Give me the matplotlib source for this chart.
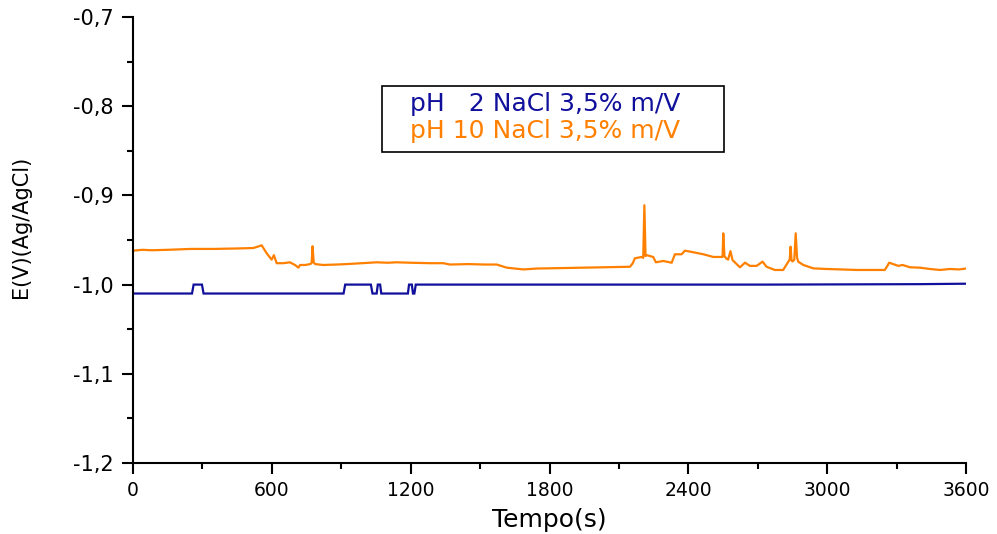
import matplotlib
matplotlib.use("Agg")
import matplotlib.pyplot as plt
from matplotlib.patches import Rectangle
from matplotlib.ticker import MultipleLocator

plt.rcParams['font.family'] = ['DejaVu Sans']

# ---- data ----
blue_t = [0, 255, 262, 298, 305, 910, 917, 1028, 1035, 1053, 1058, 1068, 1073,
          1188, 1193, 1205, 1210, 1216, 1222, 2750, 3400, 3600]
blue_v = [-1.01, -1.01, -1.0, -1.0, -1.01, -1.01, -1.0, -1.0, -1.01, -1.01, -1.0, -1.0, -1.01,
          -1.01, -1.0, -1.0, -1.01, -1.01, -1.0, -1.0, -0.9995, -0.999]

orange_t = [0, 40, 80, 150, 250, 350, 450, 520, 556, 566, 578, 599, 605, 609, 614, 621,
            650, 678, 700, 715, 722, 745, 765, 772, 776, 781, 787, 822, 880, 923, 990,
            1053, 1100, 1139, 1200, 1283, 1341, 1370, 1450, 1520, 1572, 1615, 1650, 1687,
            1745, 1850, 1950, 2050, 2148, 2160, 2169, 2198, 2205, 2210, 2215, 2220, 2248,
            2260, 2292, 2328, 2342, 2371, 2385, 2407, 2465, 2508, 2544, 2548, 2551, 2556,
            2563, 2572, 2582, 2591, 2623, 2645, 2666, 2695, 2721, 2738, 2774, 2810, 2832,
            2838, 2842, 2846, 2851, 2858, 2864, 2870, 2875, 2897, 2940, 2997, 3060, 3127,
            3249, 3258, 3268, 3285, 3307, 3326, 3358, 3400, 3444, 3488, 3530, 3570, 3600]
orange_v = [-0.962, -0.961, -0.9615, -0.961, -0.960, -0.960, -0.9595, -0.959, -0.956, -0.960,
            -0.965, -0.972, -0.969, -0.967, -0.971, -0.976,
            -0.976, -0.975, -0.978, -0.981, -0.978, -0.978, -0.977, -0.976, -0.957, -0.975,
            -0.977, -0.978, -0.9775, -0.977, -0.976,
            -0.975, -0.9755, -0.975, -0.9755, -0.976, -0.976, -0.9775, -0.977, -0.9775,
            -0.9775, -0.981, -0.982, -0.983,
            -0.982, -0.9815, -0.981, -0.9805, -0.980, -0.976, -0.9705, -0.969, -0.970,
            -0.911, -0.968, -0.967, -0.969,
            -0.975, -0.9735, -0.9755, -0.966, -0.966, -0.962, -0.963, -0.966, -0.969,
            -0.969, -0.969, -0.9425, -0.968,
            -0.9705, -0.972, -0.9625, -0.9725, -0.9806, -0.9754, -0.979, -0.979, -0.9743,
            -0.980, -0.9836, -0.9836, -0.9743,
            -0.972, -0.9575, -0.973, -0.974, -0.972, -0.9425, -0.970, -0.9743, -0.978,
            -0.9818, -0.9825, -0.983, -0.9836,
            -0.9836, -0.980, -0.9754, -0.977, -0.979, -0.978, -0.9806, -0.981, -0.9825,
            -0.9836, -0.9825, -0.983, -0.982]

series_labels = ["pH   2 NaCl 3,5% m/V", "pH 10 NaCl 3,5% m/V"]
series_colors = ["#10109c", "#ff8000"]

xticks = [0, 600, 1200, 1800, 2400, 3000, 3600]
xtick_labels = ["0", "600", "1200", "1800", "2400", "3000", "3600"]
yticks = [-1.2, -1.1, -1.0, -0.9, -0.8, -0.7]
ytick_labels = ["-1,2", "-1,1", "-1,0", "-0,9", "-0,8", "-0,7"]

# ---- figure ----
W, H = 997, 534
fig = plt.figure(figsize=(W / 100, H / 100), dpi=100)
L, R, T, B = 133, 966, 17, 463
ax = fig.add_axes([L / W, 1 - B / H, (R - L) / W, (B - T) / H])

ax.plot(blue_t, blue_v, color=series_colors[0], lw=1.6, solid_joinstyle='miter')
ax.plot(orange_t, orange_v, color=series_colors[1], lw=1.6)

ax.set_xlim(0, 3600)
ax.set_ylim(-1.2, -0.7)

for s in ['top', 'right']:
    ax.spines[s].set_visible(False)
for s in ['left', 'bottom']:
    ax.spines[s].set_linewidth(1.5)

ax.set_xticks(xticks)
ax.set_xticklabels(xtick_labels)
ax.set_yticks(yticks)
ax.set_yticklabels(ytick_labels)
ax.xaxis.set_minor_locator(MultipleLocator(300))
ax.yaxis.set_minor_locator(MultipleLocator(0.05))
ax.tick_params(which='major', direction='out', length=8, width=1.5)
ax.tick_params(which='minor', direction='out', length=4.5, width=1.5)
ax.tick_params(axis='y', which='major', pad=6, labelsize=15)
ax.tick_params(axis='x', which='major', pad=5, labelsize=13.5)

ax.set_xlabel("Tempo(s)", fontsize=18)
ax.xaxis.set_label_coords(0.5, (B - 508) / (B - T))
ax.set_ylabel("E(V)(Ag/AgCl)", fontsize=15)
ax.yaxis.set_label_coords((31 - L) / (R - L), (B - 227) / (B - T))

# legend box
bx0, bx1, by0, by1 = 382, 724, 86, 152
ax.add_patch(Rectangle(((bx0 - L) / (R - L), (B - by1) / (B - T)),
                       (bx1 - bx0) / (R - L), (by1 - by0) / (B - T),
                       transform=ax.transAxes, fill=False, edgecolor='black',
                       lw=1.2, zorder=5))
tx = (410 - L) / (R - L)
ax.text(tx, (B - 104) / (B - T), series_labels[0], color=series_colors[0],
        fontsize=18, va='center', ha='left', transform=ax.transAxes, zorder=6)
ax.text(tx, (B - 131) / (B - T), series_labels[1], color=series_colors[1],
        fontsize=18, va='center', ha='left', transform=ax.transAxes, zorder=6)

fig.savefig("out.png", dpi=100)
